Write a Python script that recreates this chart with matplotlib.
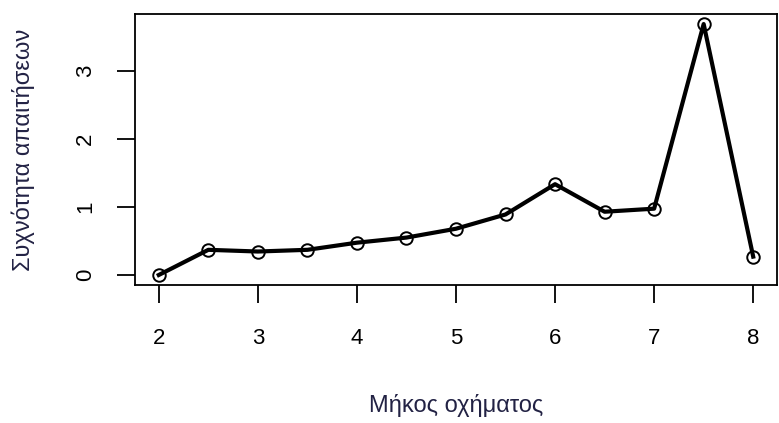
import matplotlib
matplotlib.use('Agg')
import matplotlib.pyplot as plt

# vehicle length vs. demand frequency
lengths = [2.0, 2.5, 3.0, 3.5, 4.0, 4.5, 5.0, 5.5, 6.0, 6.5, 7.0, 7.5, 8.0]
freq = [0.00, 0.37, 0.345, 0.37, 0.475, 0.55, 0.68, 0.89, 1.335, 0.93, 0.975, 3.69, 0.27]
xticks = [2, 3, 4, 5, 6, 7, 8]
yticks = [0, 1, 2, 3]

plt.rcParams['font.family'] = ['Liberation Sans', 'DejaVu Sans']

fig = plt.figure(figsize=(7.79, 4.23), dpi=100)
ax = fig.add_axes([0.1733, 0.3262, 0.8241, 0.6407])

ax.plot(lengths, freq, '-', color='black', lw=3.0, zorder=2)
ax.plot(lengths, freq, 'o', mfc='none', mec='black', mew=1.4, ms=9, zorder=3)

# R-style 4% padding around the data range
xr = max(lengths) - min(lengths)
yr = max(freq) - min(freq)
ax.set_xlim(min(lengths) - 0.04 * xr, max(lengths) + 0.04 * xr)
ax.set_ylim(min(freq) - 0.04 * yr, max(freq) + 0.04 * yr)

ax.set_xticks(xticks)
ax.set_yticks(yticks)
ax.tick_params(axis='both', length=13, width=1.3, labelsize=16, colors='black')
ax.tick_params(axis='x', pad=18)
ax.tick_params(axis='y', pad=15)
for lbl in ax.get_yticklabels():
    lbl.set_rotation(90)
    lbl.set_va('center')

for s in ax.spines.values():
    s.set_linewidth(1.3)

ax.set_xlabel('Μήκος οχήματος', fontsize=17, labelpad=32, color='#222244')
ax.set_ylabel('Συχνότητα απαιτήσεων', fontsize=17, labelpad=29, color='#222244')

fig.savefig('out.png', dpi=100)
